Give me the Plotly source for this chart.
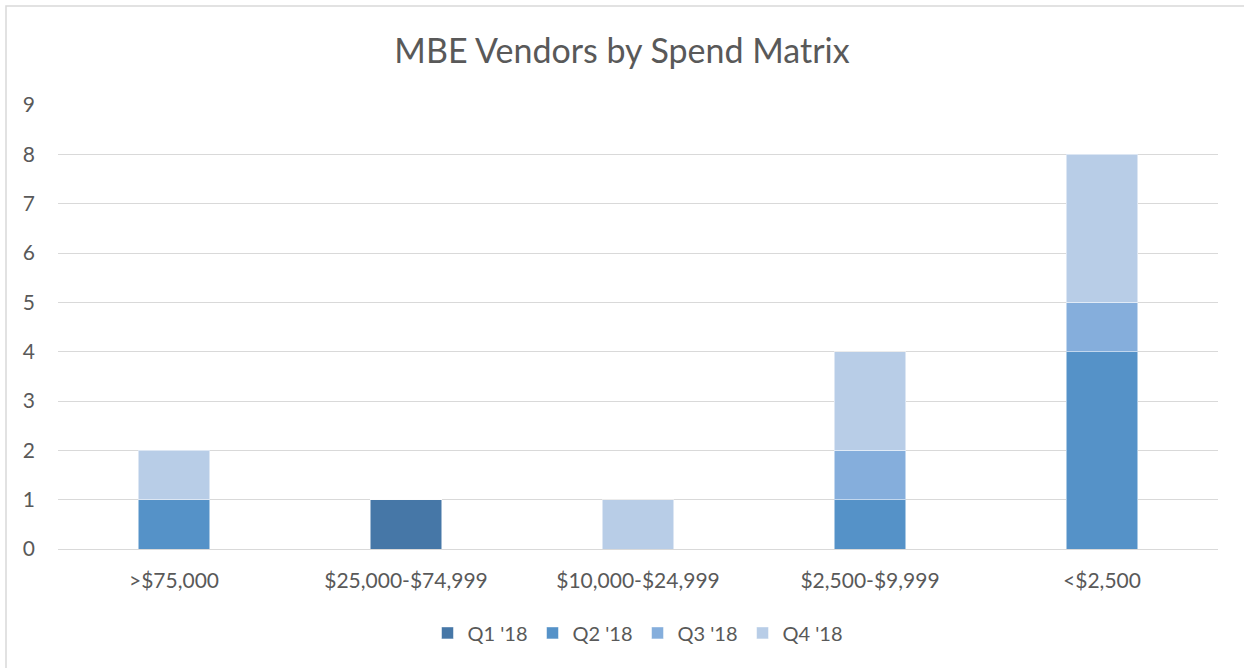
import plotly.graph_objects as go

# data
categories = [">$75,000", "$25,000-$74,999", "$10,000-$24,999", "$2,500-$9,999", "<$2,500"]
q1 = [0, 1, 0, 0, 0]
q2 = [1, 0, 0, 1, 4]
q3 = [0, 0, 0, 1, 1]
q4 = [1, 0, 1, 2, 3]
series_names = ["Q1 '18", "Q2 '18", "Q3 '18", "Q4 '18"]
colors = ["#4677A7", "#5592C8", "#85AEDC", "#B8CDE7"]

FONT = "Lato, 'Open Sans', sans-serif"
GREY = "#595959"

fig = go.Figure()
for name, vals, col in zip(series_names, [q1, q2, q3, q4], colors):
    fig.add_trace(go.Bar(x=categories, y=vals, name=name,
                         marker=dict(color=col, line=dict(color="rgba(255,255,255,0.5)", width=1)),
                         width=0.31))

fig.update_layout(
    barmode="stack",
    width=1244, height=668,
    margin=dict(l=58, r=26, t=105, b=119),
    paper_bgcolor="white", plot_bgcolor="white",
    font=dict(family=FONT, color=GREY, size=21),
    title=dict(text="MBE Vendors by Spend Matrix", x=0.5, xanchor="center",
               y=1 - 51 / 668, yanchor="middle",
               font=dict(size=34, color=GREY, family=FONT)),
    legend=dict(orientation="h", x=0.5, xanchor="center", y=-0.189, yanchor="middle",
                font=dict(size=20, color=GREY), traceorder="normal",
                itemwidth=30, tracegroupgap=0),
)
fig.update_xaxes(showgrid=False, showline=True, linecolor="#D9D9D9", linewidth=1,
                 ticks="", ticklabelstandoff=13, tickfont=dict(size=21, color=GREY))
fig.update_yaxes(range=[0, 9], dtick=1, showgrid=True, gridcolor="#D9D9D9", gridwidth=1,
                 zeroline=False, showline=False, ticks="", ticklabelstandoff=22,
                 tickfont=dict(size=21, color=GREY))

# outer chart border (right/bottom edges fall outside the view, as in the reference)
fig.add_shape(type="rect", xref="paper", yref="paper",
              x0=(6 - 58) / 1160, x1=(1250 - 58) / 1160,
              y0=(549 - 672) / 444, y1=(549 - 6) / 444,
              line=dict(color="#D9D9D9", width=1.5), fillcolor="rgba(0,0,0,0)", layer="below")

fig.write_html("out.html", config={"displayModeBar": False},
               post_script="document.body.style.margin='0';")
